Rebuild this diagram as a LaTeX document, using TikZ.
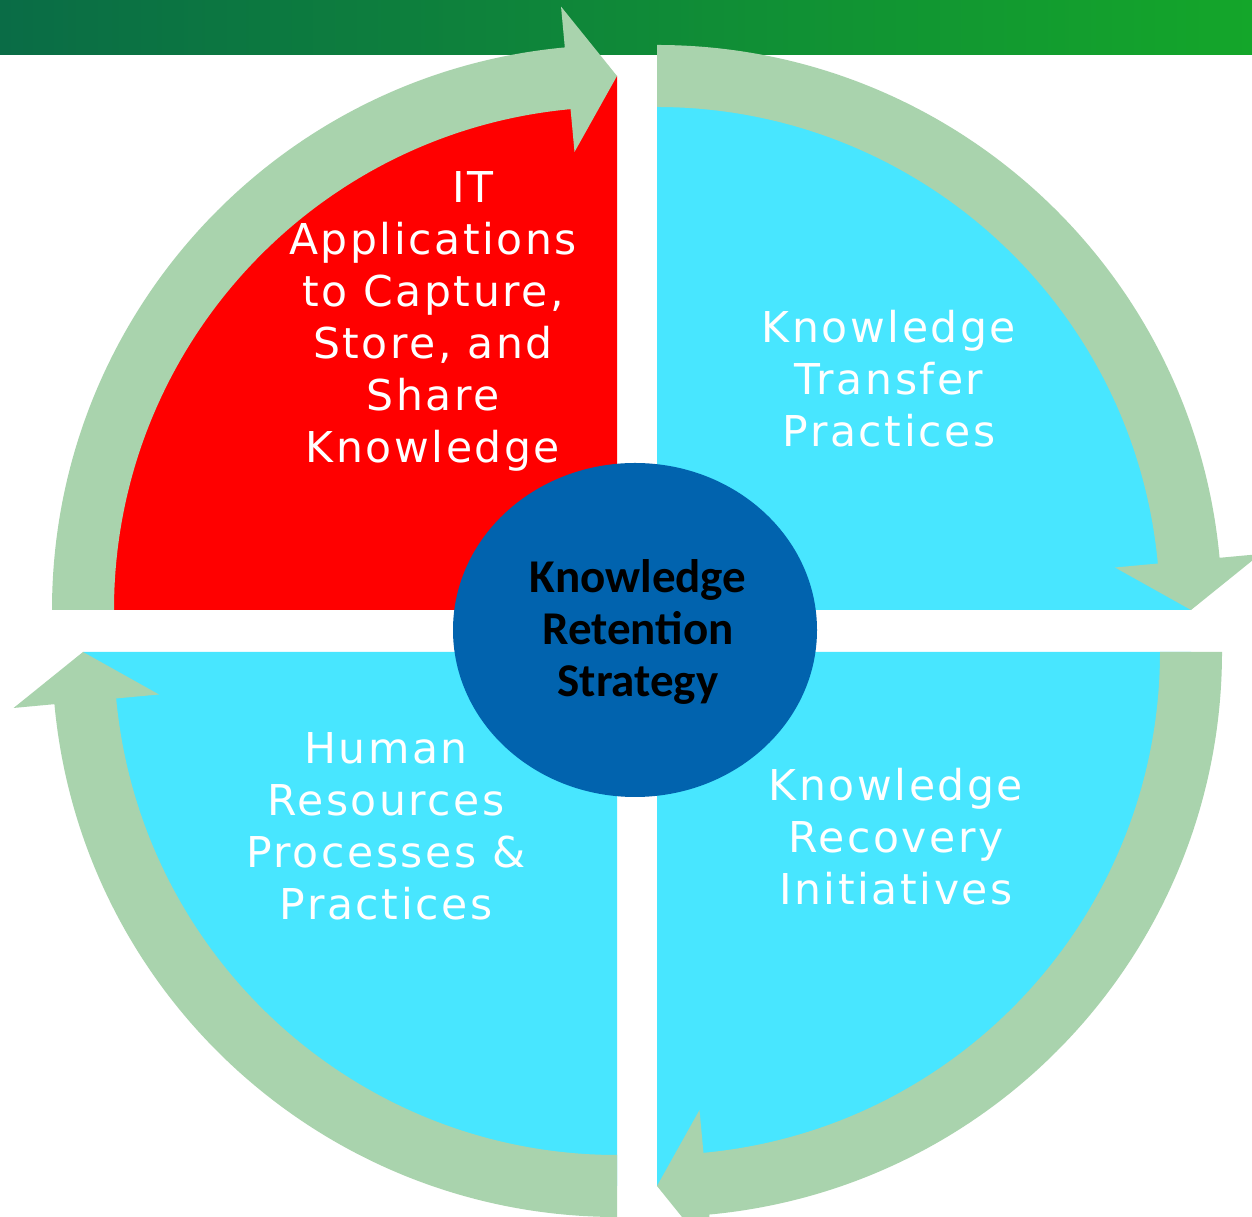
\documentclass[tikz,border=0pt]{standalone}
\usepackage{fontspec}
\usepackage{tikz}
\usetikzlibrary{calc}
\newfontfamily\quadfont{DejaVu Sans}[LetterSpace=6]
\newfontfamily\corefont{Carlito}
\definecolor{bardark}{RGB}{10,108,70}
\definecolor{barlight}{RGB}{20,166,42}
\definecolor{bandgreen}{RGB}{169,211,173}
\definecolor{quadred}{RGB}{255,0,0}
\definecolor{quadcyan}{RGB}{72,230,255}
\definecolor{coreblue}{RGB}{1,99,174}
% circular band with its head: centre x, centre y, start angle
\newcommand{\cyclearrow}[3]{%
\begin{scope}[shift={(#1,#2)}]
\fill[bandgreen] (#3:565) arc[start angle=#3, end angle=#3-84.7, radius=565]
  -- ({#3-84.7}:606) -- ({#3-90}:534) -- ({#3-84.7}:460) -- ({#3-84.7}:503)
  arc[start angle=#3-84.7, end angle=#3, radius=503] -- cycle;
\end{scope}}

\begin{document}
\begin{tikzpicture}[x=1pt,y=1pt,
  quadtext/.style={text=white, align=center, anchor=base, inner sep=0pt,
    font=\quadfont\fontsize{42.5}{52}\selectfont},
  coretext/.style={text=black, align=center, anchor=base, inner sep=0pt,
    font=\corefont\bfseries\fontsize{47}{52}\selectfont}]
\clip (0,0) rectangle (1252,1217);
\fill[white] (0,0) rectangle (1252,1217);
\shade[left color=bardark, right color=barlight] (0,1162) rectangle (1252,1217);
% quadrants
\fill[quadred] (617,607) -- ++(180:534) arc[start angle=180, end angle=90, radius=534] -- cycle;
\fill[quadcyan] (657,607) -- ++(90:534) arc[start angle=90, end angle=0, radius=534] -- cycle;
\fill[quadcyan] (657,565) -- ++(0:534) arc[start angle=0, end angle=-90, radius=534] -- cycle;
\fill[quadcyan] (617,565) -- ++(-90:534) arc[start angle=-90, end angle=-180, radius=534] -- cycle;
\fill[coreblue] (635,587) ellipse[x radius=182, y radius=167];
% arrows
\cyclearrow{617}{607}{180}
\cyclearrow{657}{607}{90}
\cyclearrow{657}{565}{0}
\cyclearrow{617}{565}{-90}
% labels (base = last line)
\node[quadtext] (itapps) at (433,754) {\hspace*{80pt}IT\\Applications\\to Capture,\\Store, and\\Share\\Knowledge};
\node[quadtext] (transfer) at (889,770) {Knowledge\\Transfer\\Practices};
\node[quadtext] (recovery) at (896,312) {Knowledge\\Recovery\\Initiatives};
\node[quadtext] (hrproc) at (386,297) {Human\\Resources\\Processes \&\\Practices};
\node[coretext] (core) at (638,520) {Knowledge\\Retention\\Strategy};
\end{tikzpicture}
\end{document}
